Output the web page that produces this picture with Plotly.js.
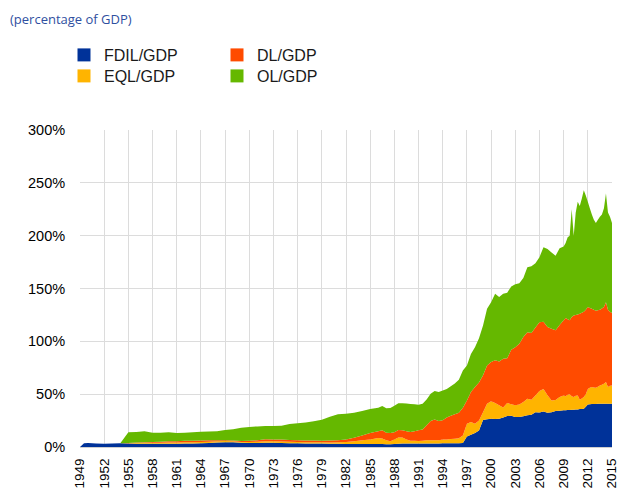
<!DOCTYPE html>
<html>
<head>
<meta charset="utf-8">
<script src="https://cdn.plot.ly/plotly-3.0.1.min.js"></script>
<style>
  html, body { margin: 0; padding: 0; background: #fff; }
  #chart { width: 618px; height: 488px; }
</style>
</head>
<body>
<div id="chart"></div>
<script>
// ---- data (percentage of GDP) ----
const years = [1949,1949.5,1950,1951,1952,1953,1954,1955,1956,1957,1958,1959,1960,1961,1962,1963,1964,1965,1966,1967,1968,1969,1970,1971,1972,1973,1974,1975,1976,1977,1978,1979,1980,1981,1982,1983,1984,1985,1986,
  1986.5,1987,1987.5,1988,1988.5,1989,1989.5,1990,1990.5,1991,1991.5,1992,1992.5,1993,1993.5,1994,1994.5,1995,1995.5,1996,1996.5,1997,1997.5,1998,1998.5,1999,1999.5,2000,2000.5,2001,2001.5,2002,2002.5,2003,2003.5,2004,2004.5,2005,2005.5,2006,2006.5,2007,2007.5,2008,2008.5,2009,
  2009.25,2009.5,2009.75,2010,2010.25,2010.5,2010.75,2011,2011.25,2011.5,2011.75,2012,2012.25,2012.5,2012.75,2013,2013.25,2013.5,2013.75,2014,2014.25,2014.5,2014.75,2015];

const fdil = [0,3.5,3.8,3.2,3.0,3.2,3.6,3.2,3,3,3,3,3,3,3.2,3.3,3.5,3.8,4.2,4.5,4.5,4.0,3.8,3.8,4.0,4.0,3.8,3.6,3.5,3.4,3.3,3.2,3.0,3.0,2.8,2.8,2.8,2.8,2.8,
  2.8,2.6,2.6,2.8,3.0,3.2,3.2,3.2,3.4,3.4,3.4,3.4,3.4,3.4,3.4,3.5,3.5,3.6,3.6,3.6,3.8,10.0,11.5,13.2,15.5,25.5,26.2,26.8,26.5,26.8,28.0,29.3,29.5,28.4,28.4,29.0,30.0,30.5,33.0,32.7,33.7,32.5,33.0,34.0,34.2,34.7,
  34.8,35.0,35.1,35.3,35.3,35.5,35.6,35.9,36.0,36.2,38.0,40.3,40.5,40.7,40.8,40.8,41.0,41,41,41,41,41,41,41];

const eql = [0,0,0,0,0,0,0,0.4,0.8,1.0,1.0,1.0,1.2,1.2,1.2,1.2,1.2,1.2,1.2,1.1,1.0,0.8,1.0,1.2,1.5,1.5,1.4,1.4,1.3,1.2,1.2,1.2,1.3,1.5,1.9,2.7,3.7,4.4,5.7,
  5.2,3.9,2.8,4.2,6.0,5.8,4.0,2.8,2.4,2.3,2.6,2.9,2.9,2.9,3.1,3.5,3.7,3.9,4.2,4.6,7.2,12.0,12.1,8.8,9.5,7.5,14.8,16.4,15.1,12.6,9.5,12.3,11.0,11.0,11.9,13.5,15.7,14.3,15.8,20.2,21.3,16.5,11.0,10.5,13.1,14.1,
  13.2,14.5,14.9,12.7,12.0,13.0,13.2,8.9,10.0,11.1,12.0,14.7,15.5,16.0,15.5,15.2,16.0,17.3,18.0,18.9,20.5,15.7,17.0,17.3];

const dl = [0,0,0,0,0,0,0,0.2,0.5,0.6,0.8,1.0,1.2,1.3,1.4,1.5,1.5,1.3,1.1,0.8,0.7,0.8,1.0,1.5,1.8,1.7,1.8,1.6,1.6,1.6,1.7,1.6,1.9,2.0,2.5,3.3,4.5,6.0,6.5,
  7.8,7.0,7.8,7.0,7.2,6.8,7.6,8.2,9.2,10.1,10.5,14.2,18.2,19.7,18.0,18.2,20.8,22.0,23.2,24.3,26.2,22.0,28.4,34.7,36.0,35.0,36.2,37.2,40.4,41.6,46.0,42.4,51.5,55.1,57.4,61.5,62.8,63.2,64.2,65.1,63.5,64.5,68.0,66.0,68.2,71.2,
  74.0,71.5,70.0,75.0,77.2,76.5,76.6,81.2,81.0,80.7,80.0,77.4,75.5,74.1,73.7,73.0,72.5,71.7,72.0,72.5,75.5,73.3,70.0,68.4];

const ol = [0,0,0,0,0,0,0,10.1,9.9,10.2,8.8,8.6,8.5,7.7,7.7,8.0,8.3,8.4,8.5,9.6,10.5,12.7,13.2,13.0,12.5,12.6,13.0,15.1,16.0,17.1,18.1,19.8,22.5,24.4,24.3,23.7,23.0,22.7,22.2,
  23.0,23.1,23.8,25.0,25.2,25.7,26.4,26.5,25.5,24.2,24.5,24.5,26.0,27.0,27.5,28.3,27.0,28.0,29.0,31.2,35.3,33.2,36.0,37.8,42.0,47.0,53.6,56.6,63.0,61.0,61.5,62.0,60.0,59.5,57.3,56.0,61.5,63.0,61.0,61.6,70.5,74.0,72.0,70.5,72.5,69.7,
  71.0,77.5,80.0,102.0,75.5,97.0,106.6,102.0,108.0,115.0,108.0,99.6,94.5,89.2,85.0,83.0,85.5,88.0,89.0,93.6,103.0,92.0,90.0,85.3];

const seriesNames = ["FDIL/GDP", "EQL/GDP", "DL/GDP", "OL/GDP"];
const tickYears = [1949,1952,1955,1958,1961,1964,1967,1970,1973,1976,1979,1982,1985,1988,1991,1994,1997,2000,2003,2006,2009,2012,2015];
const yTicks = [0,50,100,150,200,250,300];

// ---- styling ----
const colors = ["#003299", "#FFB400", "#FF4B00", "#65B800"];
const values = [fdil, eql, dl, ol];
const legendIds = ["legend", "legend3", "legend2", "legend4"];

const traces = [];
values.forEach((v, i) => {
  traces.push({
    x: years, y: v, name: seriesNames[i], type: "scatter", mode: "none",
    stackgroup: "one", fill: "tonexty", fillcolor: colors[i],
    line: {width: 0, color: colors[i]}, showlegend: false, hoverinfo: "x+y+name"
  });
});
// legend-only entries with square symbols
values.forEach((v, i) => {
  traces.push({
    x: [null], y: [null], name: seriesNames[i], type: "scatter", mode: "markers",
    marker: {symbol: "square", size: 13, color: colors[i]},
    showlegend: true, legend: legendIds[i], hoverinfo: "skip"
  });
});

const legFont = {family: "Liberation Sans, Arial, sans-serif", size: 16, color: "#1a1a1a"};
function leg(xpx, ypx) {
  return {x: xpx / 618, y: 1 - ypx / 488, xref: "container", yref: "container",
    xanchor: "left", yanchor: "middle", font: legFont, bgcolor: "rgba(0,0,0,0)",
    borderwidth: 0, orientation: "v"};
}

const layout = {
  width: 618, height: 488,
  margin: {l: 80, r: 6, t: 130, b: 41, pad: 0, autoexpand: false},
  paper_bgcolor: "#fff", plot_bgcolor: "#fff",
  font: {family: "Liberation Sans, Arial, sans-serif", size: 14, color: "#000"},
  title: {
    text: "(percentage of GDP)",
    font: {family: "Open Sans, sans-serif", size: 13, color: "#2f4f9f"},
    x: 10 / 618, xref: "container", xanchor: "left",
    y: 1 - 19 / 488, yref: "container", yanchor: "middle",
    automargin: false
  },
  legend: leg(64, 55),
  legend2: leg(217, 55),
  legend3: leg(64, 76),
  legend4: leg(217, 76),
  xaxis: {
    range: [1949, 2015], tickmode: "array", tickvals: tickYears,
    ticktext: tickYears.map(String), tickangle: -90,
    tickfont: {size: 13.5, color: "#000"},
    showgrid: true, gridcolor: "#dcdcdc", gridwidth: 1,
    zeroline: false, showline: false, automargin: false,
    ticklabeloverflow: "allow",
    ticks: "outside", ticklen: 5, tickcolor: "rgba(0,0,0,0)",
    fixedrange: true
  },
  yaxis: {
    range: [0, 300], tickmode: "array", tickvals: yTicks,
    ticktext: yTicks.map(v => v + "%"),
    tickfont: {size: 14.5, color: "#000"},
    showgrid: true, gridcolor: "#dcdcdc", gridwidth: 1,
    zeroline: true, zerolinecolor: "#cfcfcf", showline: false, automargin: false,
    ticks: "outside", ticklen: 11, tickcolor: "rgba(0,0,0,0)",
    fixedrange: true
  },
  showlegend: true
};

Plotly.newPlot("chart", traces, layout, {displayModeBar: false, staticPlot: true});
</script>
</body>
</html>
